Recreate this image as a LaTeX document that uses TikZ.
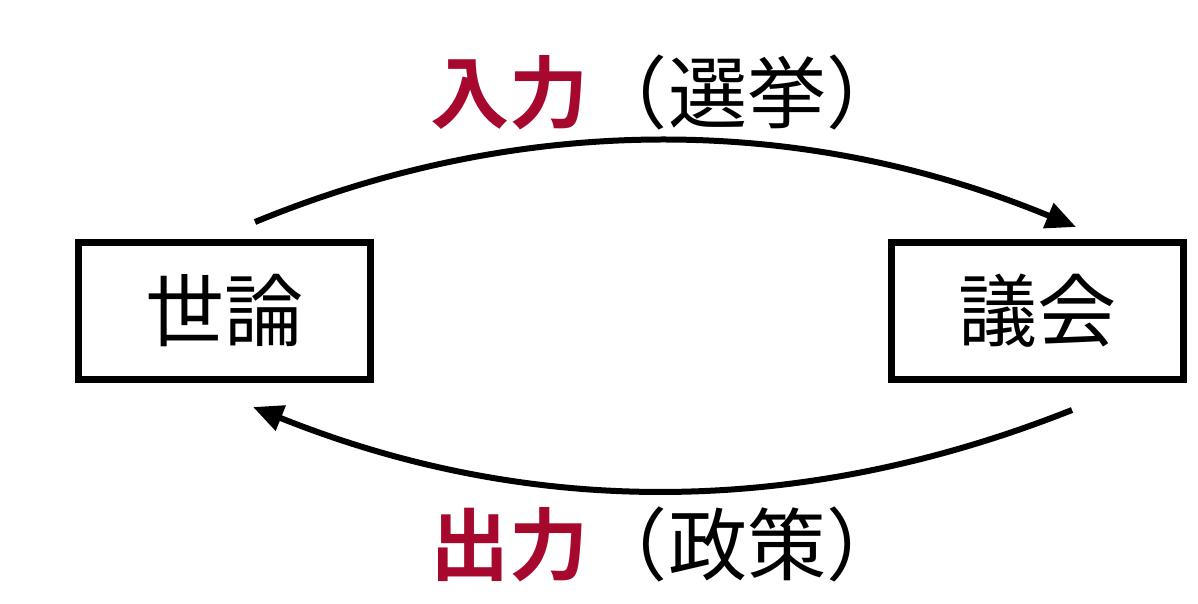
\documentclass[tikz,border=0pt]{standalone}
\usepackage{fontspec}
\usepackage{tikz}
\usetikzlibrary{arrows}
\usetikzlibrary{arrows.meta}
\usetikzlibrary{positioning}

\newfontfamily\jp[BoldFont={Noto Sans CJK JP Bold}]{Noto Sans CJK JP}
\definecolor{inred}{HTML}{A6082E}

\tikzset{
	box/.style = {draw, line width = 0.14cm, minimum width = 5.84cm, minimum height = 2.74cm, inner sep = 0pt},
	flow/.style = {line width = 0.12cm, -{Triangle[length = 0.6cm, width = 0.52cm]}},
	big/.style = {font = \jp\fontsize{45}{50}\selectfont, inner sep = 0pt}
}

\begin{document}
\begin{tikzpicture}[x = 0.02cm, y = -0.02cm]
			%\draw[help lines] (0,0) grid (1198,604);
			\useasboundingbox (0, 0) rectangle (1198, 604);
			\node[box, big] (seron) at (224.5, 311) {世論};
			\node[box, big] (gikai) at (1037.5, 311) {議会};
			
			\node[big] (nyuryoku) at (668, 92) {{\bfseries\color{inred}入力}（選挙）};
			\node[big] (shutsuryoku) at (668, 544) {{\bfseries\color{inred}出力}（政策）};
			
			\coordinate (in-a) at (255, 222);
			\coordinate (in-b) at (1076, 227);
			\coordinate (out-a) at (1072, 410);
			\coordinate (out-b) at (253, 407);
			
			\draw[flow] (in-a) .. controls (520, 113) and (800, 113) .. (in-b);
			\draw[flow] (out-a) .. controls (800, 518) and (530, 518) .. (out-b);
		\end{tikzpicture}
\end{document}
